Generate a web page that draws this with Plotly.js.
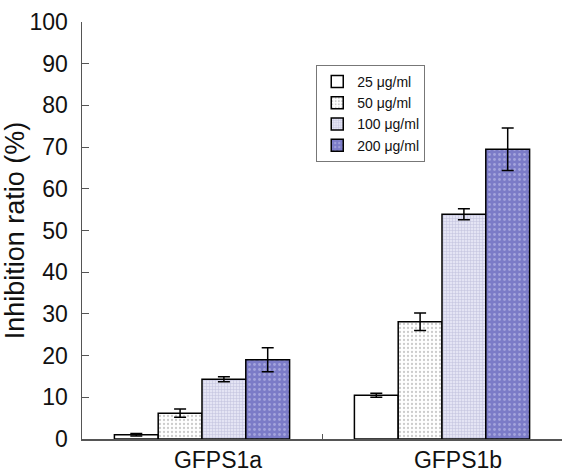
<!DOCTYPE html>
<html>
<head>
<meta charset="utf-8">
<script src="https://cdn.plot.ly/plotly-3.0.1.min.js"></script>
<style>html,body{margin:0;padding:0;background:#fff;}#chart{width:562px;height:475px;}</style>
</head>
<body>
<div id="chart"></div>
<script>
const categories = ['GFPS1a', 'GFPS1b'];
const seriesNames = ['25 μg/ml', '50 μg/ml', '100 μg/ml', '200 μg/ml'];
const values25 = [1.0, 10.5];
const values50 = [6.2, 28.1];
const values100 = [14.3, 53.9];
const values200 = [19.0, 69.5];
const errors25 = [0.3, 0.5];
const errors50 = [1.0, 2.1];
const errors100 = [0.6, 1.3];
const errors200 = [2.9, 5.1];
const yTicks = [0, 10, 20, 30, 40, 50, 60, 70, 80, 90, 100];

const seriesValues = [values25, values50, values100, values200];
const seriesErrors = [errors25, errors50, errors100, errors200];
const styles = [
  {bg: '#ffffff', fg: '#ffffff', shape: '', size: 4, solidity: 0.2},
  {bg: '#ffffff', fg: '#cccccc', shape: '.', size: 4, solidity: 0.25},
  {bg: '#e4e4f4', fg: '#c0c0dc', shape: '+', size: 3, solidity: 0.3},
  {bg: '#7b7bc7', fg: '#a4a4dc', shape: '.', size: 5, solidity: 0.25}
];

const font = 'Arial, "Liberation Sans", Helvetica, sans-serif';

const traces = seriesNames.map((name, i) => ({
  type: 'bar',
  name: name,
  x: categories,
  y: seriesValues[i],
  marker: {
    color: styles[i].bg,
    line: {color: '#000000', width: 1.5},
    pattern: {shape: styles[i].shape, bgcolor: styles[i].bg, fgcolor: styles[i].fg, size: styles[i].size, solidity: styles[i].solidity, fillmode: 'replace'}
  },
  error_y: {type: 'data', array: seriesErrors[i], visible: true, color: '#000000', thickness: 1.5, width: 6}
}));

const layout = {
  width: 562, height: 475,
  margin: {l: 82, r: 0, t: 22, b: 36},
  paper_bgcolor: '#ffffff', plot_bgcolor: '#ffffff',
  font: {family: font, color: '#111111'},
  barmode: 'group',
  bargap: 0.27,
  bargroupgap: 0,
  showlegend: true,
  legend: {
    x: 0.488, y: 0.897, xanchor: 'left', yanchor: 'top',
    bgcolor: '#ffffff', bordercolor: '#777777', borderwidth: 1,
    font: {family: font, size: 14, color: '#111111'},
    tracegroupgap: 0, itemwidth: 30
  },
  xaxis: {
    type: 'category',
    showline: true, linecolor: '#555555', linewidth: 1.5,
    ticks: 'inside', tickson: 'boundaries', ticklen: 5, tickcolor: '#555555', tickwidth: 1,
    tickfont: {family: font, size: 23, color: '#111111'},
    ticklabelshift: 16,
    showgrid: false, zeroline: false
  },
  yaxis: {
    range: [0, 100],
    tickvals: yTicks,
    ticktext: yTicks.map(String),
    showline: true, linecolor: '#555555', linewidth: 1.5,
    ticks: 'inside', ticklen: 7, tickcolor: '#555555', tickwidth: 1,
    tickfont: {family: font, size: 23, color: '#111111'},
    ticklabelstandoff: 8,
    showgrid: false, zeroline: false,
    title: {text: 'Inhibition ratio (%)', font: {family: font, size: 27, color: '#111111'}, standoff: 6}
  }
};

Plotly.newPlot('chart', traces, layout, {displayModeBar: false, staticPlot: true});
</script>
</body>
</html>
